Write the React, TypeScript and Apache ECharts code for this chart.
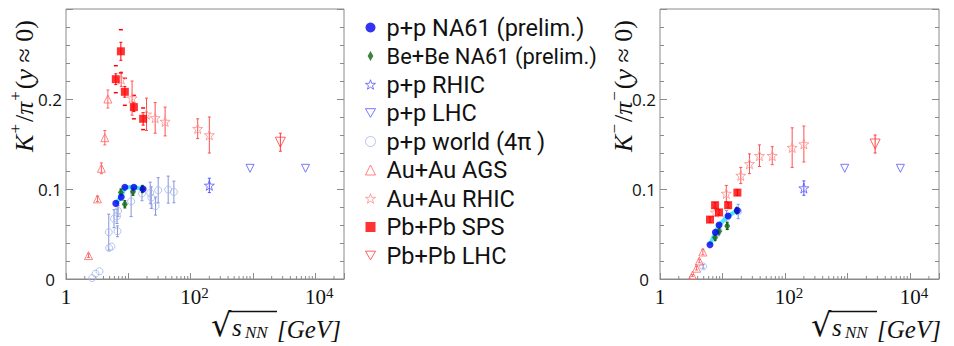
import React, { useEffect, useRef } from "react";
import * as echarts from "echarts";

// ---------- data ----------
const xMinorTicks = [2, 3, 4, 5, 6, 7, 8, 9, 20, 30, 40, 50, 60, 70, 80, 90, 200, 300, 400, 500, 600, 700, 800, 900, 2000, 3000, 4000, 5000, 6000, 7000, 8000, 9000, 20000];

const ppNA61X = [6.3, 7.7, 8.8, 12.3, 17.3];
const ppNA61KPlus = [0.084, 0.091, 0.102, 0.102, 0.1];
const ppNA61KMinus = [0.038, 0.052, 0.06, 0.07, 0.076];

const beBeX = [7.6, 8.8, 11.9, 16.8];
const beBeKPlus = [0.096, 0.083, 0.097, 0.1];
const beBeKPlusErr = [0.004, 0.004, 0.004, 0.004];
const beBeKMinus = [0.046, 0.053, 0.059, 0.076];
const beBeKMinusErr = [0.003, 0.003, 0.004, 0.003];

const ppRHICX = [200];
const ppRHICKPlus = [0.104];
const ppRHICKMinus = [0.101];
const ppRHICErr = [0.008];

const ppLHCX = [900, 7000];
const ppLHCKPlus = [0.123, 0.123];
const ppLHCKMinus = [0.123, 0.123];

const ppWorldKPlusX = [2.63, 2.98, 3.45, 4.92, 5.37, 4.86, 6.7, 5.9, 6.6, 6.85, 11.1, 16.6, 22.5, 23.4, 27.4, 30.2, 43.7, 53.9];
const ppWorldKPlus = [0.001, 0.006, 0.0086, 0.0345, 0.036, 0.052, 0.053, 0.067, 0.0697, 0.0756, 0.0863, 0.095, 0.0956, 0.0904, 0.081, 0.0986, 0.0993, 0.0967];
const ppWorldKPlusErr = [0, 0, 0, 0, 0, 0.02, 0.006, 0.01, 0.008, 0.006, 0.017, 0.008, 0.012, 0.012, 0.01, 0.014, 0.015, 0.012];
const ppWorldKMinusX = [4.9, 8.6, 11.6, 17.8];
const ppWorldKMinus = [0.014, 0.054, 0.068, 0.075];
const ppWorldKMinusErr = [0.002, 0.006, 0.008, 0.008];

const agsKPlusX = [2.3, 3.2, 3.7, 4.2, 4.7];
const agsKPlus = [0.026, 0.089, 0.123, 0.157, 0.2];
const agsKPlusErr = [0.002, 0.003, 0.006, 0.008, 0.01];
const agsKMinusX = [3.3, 3.85, 4.25, 4.85];
const agsKMinus = [0.004, 0.012, 0.02, 0.03];
const agsKMinusErr = [0.001, 0.002, 0.002, 0.003];

const auRHICKPlusX = [7.7, 11.5, 19.6, 27, 39, 130, 200];
const auRHICKPlus = [0.222, 0.201, 0.183, 0.179, 0.175, 0.167, 0.16];
const auRHICKPlusErr = [0.008, 0.019, 0.018, 0.017, 0.016, 0.011, 0.02];
const auRHICKMinusX = [7.7, 11.5, 19.6, 27, 39, 62.4, 130, 200];
const auRHICKMinus = [0.074, 0.095, 0.115, 0.128, 0.137, 0.137, 0.146, 0.15];
const auRHICKMinusErr = [0.004, 0.009, 0.009, 0.011, 0.012, 0.01, 0.022, 0.02];

const pbSPSX = [6.3, 7.6, 8.8, 12.3, 17.3];
const pbSPSKPlus = [0.222, 0.253, 0.208, 0.191, 0.178];
const pbSPSKPlusErr = [0.006, 0.01, 0.006, 0.005, 0.007];
const pbSPSKPlusSys = [0.015, 0.024, 0.015, 0.013, 0.012];
const pbSPSKMinus = [0.066, 0.082, 0.074, 0.082, 0.096];
const pbSPSKMinusErr = [0.003, 0.003, 0.003, 0.003, 0.003];

const pbLHCX = [2760];
const pbLHCKPlus = [0.152];
const pbLHCKMinus = [0.15];
const pbLHCErr = [0.01];

const legendNames = [
  "p+p NA61 (prelim.)",
  "Be+Be NA61 (prelim.)",
  "p+p RHIC",
  "p+p LHC",
  "p+p world (4\u03c0 )",
  "Au+Au AGS",
  "Au+Au RHIC",
  "Pb+Pb SPS",
  "Pb+Pb LHC",
];

// ---------- styles ----------
const STAR = "path://M0,-10 L2.35,-3.24 L9.51,-3.09 L3.8,1.24 L5.88,8.09 L0,4 L-5.88,8.09 L-3.8,1.24 L-9.51,-3.09 L-2.35,-3.24 Z";
const DOWN = "path://M0,0 L10,0 L5,8.66 Z";
const CLEAR = "rgba(255,255,255,0)";

const C = {
  ppNA61: "#0000ee",
  beBe: "#0a640f",
  ppRHIC: "#5656ff",
  ppLHC: "#5656ff",
  ppWorld: "#a4b6ea",
  ppWorldErr: "#8494de",
  ags: "#ff6464",
  auRHIC: "#ff8c8c",
  auRHICErr: "#ff5050",
  pbSPS: "#ff0000",
  pbLHC: "#ff3a3a",
  band: "#4ee8f4",
};

const zip = (xs: number[], ys: number[], es?: number[]) =>
  xs.map((x, i) => [x, ys[i], es ? es[i] : 0]);

const errRender = (cap: number, lw: number) => (params: any, api: any) => {
  const x = api.value(0);
  const y = api.value(1);
  const e = api.value(2);
  if (!e) return null;
  const t = api.coord([x, y + e]);
  const b = api.coord([x, y - e]);
  const style = { stroke: api.visual("color"), lineWidth: lw };
  return {
    type: "group",
    children: [
      { type: "line", shape: { x1: t[0], y1: t[1], x2: b[0], y2: b[1] }, style },
      { type: "line", shape: { x1: t[0] - cap, y1: t[1], x2: t[0] + cap, y2: t[1] }, style },
      { type: "line", shape: { x1: b[0] - cap, y1: b[1], x2: b[0] + cap, y2: b[1] }, style },
    ],
  };
};

const sysRender = (params: any, api: any) => {
  const x = api.value(0);
  const y = api.value(1);
  const e = api.value(2);
  const t = api.coord([x, y + e]);
  const b = api.coord([x, y - e]);
  const style = { stroke: api.visual("color"), lineWidth: 1.5 };
  return {
    type: "group",
    children: [
      { type: "line", shape: { x1: t[0] - 2, y1: t[1], x2: t[0] + 2, y2: t[1] }, style },
      { type: "line", shape: { x1: b[0] - 2, y1: b[1], x2: b[0] + 2, y2: b[1] }, style },
    ],
  };
};

const tickRender = (params: any, api: any) => {
  const p = api.coord([api.value(0), 0]);
  return {
    type: "line",
    shape: { x1: p[0], y1: p[1], x2: p[0], y2: p[1] - 3 },
    style: { stroke: "#8a8a8a", lineWidth: 1 },
  };
};

function buildPanel(p: number, neg: boolean) {
  const xi = p;
  const yi = p * 2;
  const ax = { xAxisIndex: xi, yAxisIndex: yi };
  const S: any[] = [];
  const err = (name: string, data: any[], color: string, cap = 1.5, lw = 1) =>
    S.push({
      ...ax,
      type: "custom",
      name: name + "_err" + p,
      data,
      renderItem: errRender(cap, lw),
      itemStyle: { color },
      clip: true,
      silent: true,
      z: 2,
    });
  const sc = (name: string, data: any[], symbol: string, size: any, fill: string, stroke?: string, z = 4) =>
    S.push({
      ...ax,
      type: "scatter",
      name,
      data: data.map((d) => [d[0], d[1]]),
      symbol,
      symbolSize: size,
      itemStyle: stroke
        ? { color: CLEAR, borderColor: stroke, borderWidth: 1 }
        : { color: fill },
      z,
      silent: true,
    });

  S.push({
    ...ax,
    type: "custom",
    name: "minor" + p,
    data: xMinorTicks.map((v) => [v, 0]),
    renderItem: tickRender,
    silent: true,
    z: 1,
  });

  // p+p world
  const world = neg ? zip(ppWorldKMinusX, ppWorldKMinus, ppWorldKMinusErr) : zip(ppWorldKPlusX, ppWorldKPlus, ppWorldKPlusErr);
  err("world", world, C.ppWorldErr);
  sc(legendNames[4], world, "circle", 7, "", C.ppWorld, 3);

  // AGS
  const ags = neg ? zip(agsKMinusX, agsKMinus, agsKMinusErr) : zip(agsKPlusX, agsKPlus, agsKPlusErr);
  err("ags", ags, C.ags);
  sc(legendNames[5], ags, "triangle", 8, "", C.ags);

  // Au+Au RHIC
  const au = neg ? zip(auRHICKMinusX, auRHICKMinus, auRHICKMinusErr) : zip(auRHICKPlusX, auRHICKPlus, auRHICKPlusErr);
  err("au", au, C.auRHICErr);
  sc(legendNames[6], au, STAR, 10, "", C.auRHIC);

  // p+p RHIC
  const rh = zip(ppRHICX, neg ? ppRHICKMinus : ppRHICKPlus, ppRHICErr);
  err("pprhic", rh, C.ppRHIC);
  sc(legendNames[2], rh, STAR, 10, "", C.ppRHIC);

  // p+p LHC
  const lhc = zip(ppLHCX, neg ? ppLHCKMinus : ppLHCKPlus);
  sc(legendNames[3], lhc, DOWN, 8, "", C.ppLHC);

  // Pb+Pb LHC
  const pl = zip(pbLHCX, neg ? pbLHCKMinus : pbLHCKPlus, pbLHCErr);
  err("pblhc", pl, C.pbLHC);
  sc(legendNames[8], pl, DOWN, 10, "", C.pbLHC);

  // band for NA61 p+p
  S.push({
    ...ax,
    type: "line",
    name: "band" + p,
    data: zip(ppNA61X, neg ? ppNA61KMinus : ppNA61KPlus).map((d) => [d[0], d[1]]),
    symbol: "none",
    lineStyle: { color: C.band, width: 4 },
    silent: true,
    z: 2,
  });

  // Pb+Pb SPS
  const sps = zip(pbSPSX, neg ? pbSPSKMinus : pbSPSKPlus, neg ? pbSPSKMinusErr : pbSPSKPlusErr);
  err("sps", sps, C.pbSPS);
  if (!neg) {
    S.push({
      ...ax,
      type: "custom",
      name: "spssys" + p,
      data: zip(pbSPSX, pbSPSKPlus, pbSPSKPlusSys),
      renderItem: sysRender,
      itemStyle: { color: C.pbSPS },
      silent: true,
      z: 2,
    });
  }
  sc(legendNames[7], sps, "rect", 8, C.pbSPS);

  // Be+Be
  const be = zip(beBeX, neg ? beBeKMinus : beBeKPlus, neg ? beBeKMinusErr : beBeKPlusErr);
  err("bebe", be, C.beBe);
  sc(legendNames[1], be, "diamond", [6, 9], C.beBe, undefined, 5);

  // p+p NA61
  const na = zip(ppNA61X, neg ? ppNA61KMinus : ppNA61KPlus);
  sc(legendNames[0], na, "circle", 7, C.ppNA61, undefined, 6);

  return S;
}

const serif = "'Liberation Serif', 'DejaVu Serif', serif";
const sans = "'Open Sans', Lato, sans-serif";
const legendFont = "Roboto, 'Open Sans', sans-serif";

function xAxisFor(i: number) {
  return {
    type: "log",
    logBase: 10,
    gridIndex: i,
    min: 1,
    max: 29000,
    axisLine: { show: true, lineStyle: { color: "#8a8a8a" } },
    axisTick: { show: true, inside: true, length: 6, lineStyle: { color: "#8a8a8a" } },
    splitLine: { show: false },
    axisLabel: {
      margin: 6,
      color: "#111",
      fontFamily: serif,
      fontSize: 21,
      formatter: (v: number) => {
        const k = Math.round(Math.log10(v));
        if (Math.abs(Math.log10(v) - k) > 1e-6) return "";
        if (k === 0) return "{a|1}";
        if (k === 2 || k === 4) return "{sp| }{a|10}{s|" + k + "}";
        return "";
      },
      rich: {
        a: { fontFamily: serif, fontSize: 21, color: "#111", lineHeight: 22, verticalAlign: "bottom" },
        s: { fontFamily: serif, fontSize: 15, color: "#111", lineHeight: 22, verticalAlign: "top" },
        sp: { width: 8, fontSize: 14, lineHeight: 22 },
      },
    },
  };
}

function yAxisFor(i: number, right: boolean) {
  return {
    type: "value",
    gridIndex: i,
    position: right ? "right" : "left",
    min: 0,
    max: 0.3,
    interval: 0.1,
    axisLine: { show: false },
    splitLine: { show: false },
    axisTick: { show: true, inside: true, length: 7, lineStyle: { color: "#8a8a8a" } },
    minorTick: { show: true, splitNumber: 5, length: 4, lineStyle: { color: "#8a8a8a" } },
    axisLabel: right
      ? { show: false }
      : {
          margin: 4,
          color: "#111",
          fontFamily: sans,
          fontSize: 17,
          formatter: (v: number) => (v === 0 ? "{z|0}" : Math.abs(v - 0.3) < 1e-9 ? "" : v.toFixed(1)),
          rich: { z: { fontFamily: sans, fontSize: 17, color: "#111", padding: [0, 7, 0, 0] } },
        },
  };
}

const yTitleRich = {
  i: { fontFamily: serif, fontStyle: "italic", fontSize: 26, fill: "#111", lineHeight: 30, verticalAlign: "bottom" },
  n: { fontFamily: serif, fontSize: 26, fill: "#111", lineHeight: 30, verticalAlign: "bottom" },
  s: { fontFamily: serif, fontSize: 17, fill: "#111", lineHeight: 30, verticalAlign: "top", padding: [0, 2, 0, 1] },
};

function yTitle(cx: number, sign: string) {
  return {
    type: "text",
    x: cx,
    y: 86,
    rotation: Math.PI / 2,
    style: {
      text: "{i|K}{s|" + sign + "}{n|/}{i|\u03c0}{s|" + sign + "}{n|(}{i|y}{n| \u2248 0)}",
      rich: yTitleRich,
      align: "center",
      verticalAlign: "middle",
    },
  };
}

function xTitle(ox: number) {
  const t = (x: number, y: number, text: string, size: number, italic: boolean, fam = serif) => ({
    type: "text",
    x: ox + x,
    y,
    style: {
      text,
      fontFamily: fam,
      fontSize: size,
      fontStyle: italic ? "italic" : "normal",
      fill: "#111",
      align: "left",
      verticalAlign: "middle",
    },
  });
  return [
    t(211, 325, "\u221a", 32, false, "'DejaVu Sans', sans-serif"),
    t(232, 327, "s", 25, true),
    t(245, 332, "NN", 17, true),
    t(277, 329, "[GeV]", 25, true),
    {
      type: "line",
      shape: { x1: ox + 229, y1: 311.5, x2: ox + 277, y2: 311.5 },
      style: { stroke: "#111", lineWidth: 1.3 },
    },
  ];
}

const legendIcons: any[] = [
  { icon: "circle", itemStyle: { color: C.ppNA61, borderWidth: 0 } },
  { icon: "path://M5,0 L9,7 L5,14 L1,7 Z", itemStyle: { color: C.beBe, borderWidth: 0 }, textStyle: { fontSize: 21.9 } },
  { icon: STAR, itemStyle: { color: CLEAR, borderColor: C.ppRHIC, borderWidth: 1 } },
  { icon: DOWN, itemStyle: { color: CLEAR, borderColor: C.ppLHC, borderWidth: 1 } },
  { icon: "circle", itemStyle: { color: CLEAR, borderColor: C.ppWorld, borderWidth: 1 } },
  { icon: "triangle", itemStyle: { color: CLEAR, borderColor: C.ags, borderWidth: 1 } },
  { icon: STAR, itemStyle: { color: CLEAR, borderColor: C.auRHIC, borderWidth: 1 } },
  { icon: "rect", itemStyle: { color: C.pbSPS, borderWidth: 0 } },
  { icon: DOWN, itemStyle: { color: CLEAR, borderColor: C.pbLHC, borderWidth: 1 } },
];

export default function App() {
  const ref = useRef<HTMLDivElement>(null);
  useEffect(() => {
    if (!ref.current) return;
    const chart = echarts.init(ref.current, undefined, { renderer: "svg" });
    const option: any = {
      animation: false,
      backgroundColor: "#ffffff",
      grid: [
        { left: 66, top: 9, width: 278, height: 270, show: true, borderColor: "#8a8a8a", borderWidth: 1 },
        { left: 660, top: 9, width: 279, height: 270, show: true, borderColor: "#8a8a8a", borderWidth: 1 },
      ],
      xAxis: [xAxisFor(0), xAxisFor(1)],
      yAxis: [yAxisFor(0, false), yAxisFor(0, true), yAxisFor(1, false), yAxisFor(1, true)],
      legend: {
        orient: "vertical",
        left: 365,
        top: 15,
        padding: 0,
        itemWidth: 10,
        itemHeight: 10,
        itemGap: 3.5,
        selectedMode: false,
        symbolKeepAspect: true,
        textStyle: { fontFamily: legendFont, fontSize: 23.5, color: "#111", lineHeight: 25, padding: [0, 0, 0, 6] },
        data: legendNames.map((n, i) => ({ name: n, ...legendIcons[i] })),
      },
      graphic: [yTitle(22, "+"), yTitle(621, "\u2212"), ...xTitle(0), ...xTitle(600)],
      series: [...buildPanel(0, false), ...buildPanel(1, true)],
    };
    chart.setOption(option);
    return () => chart.dispose();
  }, []);
  return (
    <div
      ref={ref}
      style={{ position: "fixed", left: 0, top: 0, width: 954, height: 346 }}
    />
  );
}
